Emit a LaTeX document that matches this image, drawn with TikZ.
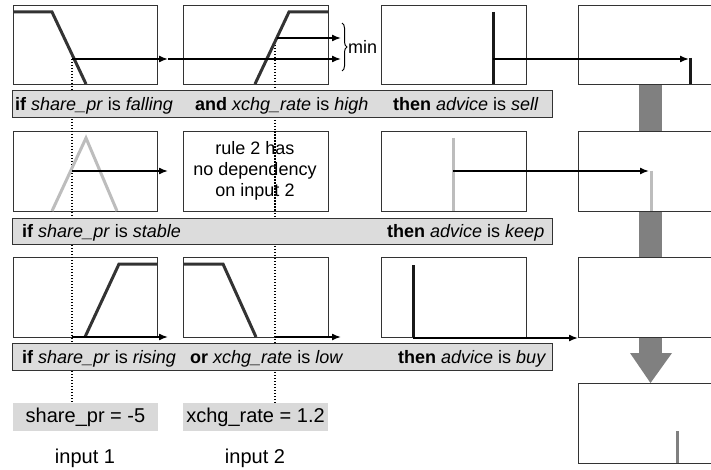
\documentclass[tikz,border=0pt]{standalone}
\usepackage{fontspec}
\setmainfont{Liberation Sans}
\usetikzlibrary{arrows.meta,decorations.pathreplacing}
\definecolor{curvedark}{HTML}{333333}
\definecolor{curvelight}{HTML}{BDBDBD}
\definecolor{bigarrow}{HTML}{808080}
\definecolor{rulefill}{HTML}{DCDCDC}
\definecolor{inputfill}{HTML}{D9D9D9}
\tikzset{
  plotbox/.style={draw=black!80, line width=0.9pt, fill=white},
  mf/.style={line width=3pt, line join=miter},
  mfdark/.style={mf, draw=curvedark},
  mflight/.style={mf, draw=curvelight},
  bardark/.style={line width=3pt, draw=black!90},
  barlight/.style={line width=3pt, draw=curvelight},
  flow/.style={line width=1.5pt, -{Latex[length=9pt,width=7pt]}},
  probe/.style={line width=1.4pt, dash pattern=on 1.4pt off 1.6pt},
  rulebox/.style={draw=black!80, line width=0.9pt, fill=rulefill},
  ruletext/.style={inner sep=0pt, anchor=base west, font=\fontsize{18}{21}\selectfont},
  boxtext/.style={inner sep=0pt, align=center, font=\fontsize{18}{21}\selectfont},
  inputbox/.style={fill=inputfill, draw=none, minimum height=28pt, inner sep=0pt, font=\fontsize{20}{24}\selectfont},
  inputlabel/.style={inner sep=0pt, font=\fontsize{20}{24}\selectfont}
}
\begin{document}
\begin{tikzpicture}[x=1pt,y=-1pt]
\useasboundingbox (0,0) rectangle (711,470);
\clip (0,0) rectangle (711,470);
% big grey aggregation arrow
\fill[bigarrow] (639,84) rectangle (662,353);
\fill[bigarrow] (630,353) -- (672,353) -- (650.5,383) -- cycle;
% plot boxes
\draw[plotbox] (13,5) rectangle (157,84);
\draw[plotbox] (183,5) rectangle (328,84);
\draw[plotbox] (381,5) rectangle (526,84);
\draw[plotbox] (578,5) rectangle (720,84);
\draw[plotbox] (13,131) rectangle (157,211);
\draw[plotbox] (183,131) rectangle (328,211);
\draw[plotbox] (381,131) rectangle (526,211);
\draw[plotbox] (578,131) rectangle (720,211);
\draw[plotbox] (13,257) rectangle (157,337);
\draw[plotbox] (183,257) rectangle (328,337);
\draw[plotbox] (381,257) rectangle (526,337);
\draw[plotbox] (578,257) rectangle (720,337);
\draw[plotbox] (578,383) rectangle (720,463);
% named coordinates
\coordinate (p1) at (72,59);
\coordinate (p1m) at (168,59);
\coordinate (p1e) at (341,59);
\coordinate (p2) at (277,38);
\coordinate (p2e) at (341,38);
\coordinate (q1) at (275,42);
\coordinate (p1bot) at (72,403);
\coordinate (q1bot) at (275,403);
\coordinate (r1s) at (493,59);
\coordinate (r1e) at (689,59);
\coordinate (s1) at (72,171);
\coordinate (s1e) at (168,171);
\coordinate (r2s) at (453,171);
\coordinate (r2e) at (649,171);
\coordinate (t1) at (72,337);
\coordinate (t1e) at (168,337);
\coordinate (t2) at (275,337);
\coordinate (t2e) at (341,337);
\coordinate (r3s) at (413,338);
\coordinate (r3e) at (578,338);
% probe lines
\draw[probe] (p1) -- (p1bot);
\draw[probe] (q1) -- (q1bot);
% membership functions row 1
\draw[mfdark] (13,12) -- (52,12) -- (86,84);
\draw[mfdark] (255,84) -- (289,12) -- (328,12);
\draw[bardark] (493,12) -- (493,84);
\draw[bardark] (690.5,58) -- (690.5,84);
% row 2
\draw[mflight] (52,211) -- (86,138) -- (117,211);
\draw[barlight] (453,138) -- (453,211);
\draw[barlight] (651,171) -- (651,211);
% row 3
\draw[mfdark] (85,337) -- (119,264) -- (157,264);
\draw[mfdark] (183,264) -- (223,264) -- (256,337);
\draw[bardark] (413,265) -- (413,337);
% box 13 result
\draw[line width=3pt, draw=bigarrow] (677,431) -- (677,463);
% arrows
\draw[flow] (p1) -- (p1m);
\draw[flow] (p1m) -- (p1e);
\draw[flow] (p2) -- (p2e);
\draw[flow] (r1s) -- (r1e);
\draw[flow] (s1) -- (s1e);
\draw[flow] (r2s) -- (r2e);
\draw[flow] (t1) -- (t1e);
\draw[flow] (t2) -- (t2e);
\draw[flow] (r3s) -- (r3e);
% min brace
\draw[line width=1pt, decorate, decoration={brace, amplitude=5pt}] (342,23) -- (342,71);
\node[inner sep=0pt, anchor=west, font=\fontsize{18}{21}\selectfont] (minlbl) at (348,47) {min};
% text box row 2
\node[boxtext] (norule) at (255,171) {rule 2 has\\no dependency\\on input 2};
% redraw probe over text box
\draw[probe] (275,131) -- (275,211);
% rule boxes
\node[rulebox, minimum width=540pt, minimum height=27pt, inner sep=0pt] (rule1) at (282,103.5) {};
\node[rulebox, minimum width=540pt, minimum height=26pt, inner sep=0pt] (rule2) at (282,231) {};
\node[rulebox, minimum width=540pt, minimum height=27pt, inner sep=0pt] (rule3) at (282,356.5) {};
\node[ruletext] (r1a) at (15,110.5) {\textbf{if} \textit{share\_pr} is \textit{falling}};
\node[ruletext] (r1b) at (195,110.5) {\textbf{and} \textit{xchg\_rate} is \textit{high}};
\node[ruletext] (r1c) at (393,110.5) {\textbf{then} \textit{advice} is \textit{sell}};
\node[ruletext] (r2a) at (22,237.5) {\textbf{if} \textit{share\_pr} is \textit{stable}};
\node[ruletext] (r2c) at (387,237.5) {\textbf{then} \textit{advice} is \textit{keep}};
\node[ruletext] (r3a) at (22,363) {\textbf{if} \textit{share\_pr} is \textit{rising}};
\node[ruletext] (r3b) at (190,363) {\textbf{or} \textit{xchg\_rate} is \textit{low}};
\node[ruletext] (r3c) at (398,363) {\textbf{then} \textit{advice} is \textit{buy}};
% inputs
\node[inputbox, minimum width=145pt] (in1) at (85.5,417) {share\_pr = -5};
\node[inputbox, minimum width=145pt] (in2) at (255.5,417) {xchg\_rate = 1.2};
\node[inputlabel] (lab1) at (85,458) {input 1};
\node[inputlabel] (lab2) at (255,458) {input 2};
\end{tikzpicture}
\end{document}
